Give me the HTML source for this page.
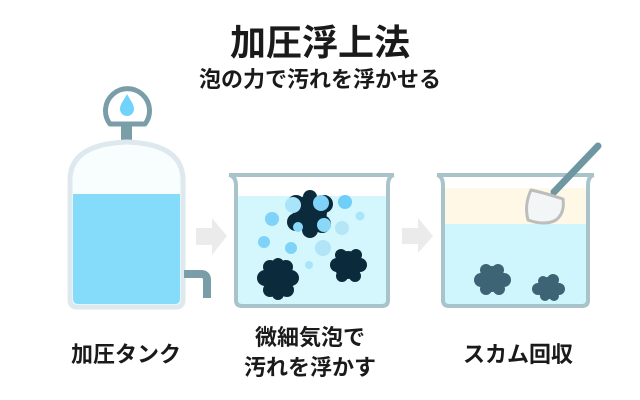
<!DOCTYPE html>
<html><head><meta charset="utf-8"><style>
html,body{margin:0;padding:0;background:#fff}
svg{display:block}
text{font-family:"Liberation Sans","Noto Sans CJK JP",sans-serif;fill:#1a1a1a}
</style></head><body>
<svg width="640" height="400" viewBox="0 0 640 400" xmlns="http://www.w3.org/2000/svg">
<text x="320" y="55" text-anchor="middle" font-size="36" font-weight="700">加圧浮上法</text>
<text x="320" y="87" text-anchor="middle" font-size="22" font-weight="700">泡の力で汚れを浮かせる</text>

<!-- gauge -->
<path d="M110 124 A22 22 0 1 1 145 124 Z" fill="#fff" stroke="#7a9ea8" stroke-width="5" stroke-linejoin="round"/>
<rect x="121" y="126" width="11" height="16" fill="#7a9ea8"/>
<path d="M127 94 C124 100 120 104 120 109 A7 7 0 0 0 134 109 C134 104 130 100 127 94 Z" fill="#6fd3fb"/>
<!-- tank -->
<path d="M70 300 V180 Q70 144 127 142 Q183 144 183 180 V300 Q183 307 176 307 H77 Q70 307 70 300 Z" fill="#f8fdfe" stroke="#dde9ee" stroke-width="5"/>
<path d="M73 194 H180 V299 Q180 304 175 304 H78 Q73 304 73 299 Z" fill="#84dcfa"/>
<path d="M184 274 H201 Q207 274 207 280 V298" fill="none" stroke="#7a9ea8" stroke-width="8"/>

<!-- arrows -->
<polygon points="196,228 212,228 212,218 227,236 212,255 212,245 196,245" fill="#ebebeb"/>
<polygon points="402,228 418,228 418,218 433,236 418,253 418,244 402,244" fill="#ebebeb"/>

<!-- beaker 2 -->
<path d="M234 196 H390 V300 Q390 306 384 306 H240 Q234 306 234 300 Z" fill="#d4f6fd"/>
<path d="M229 175 Q236 176 236 186 V300 Q236 306 242 306 H382 Q388 306 388 300 V186 Q388 176 394 175" fill="none" stroke="#a9c3cb" stroke-width="4"/>
<line x1="229" y1="175" x2="394" y2="175" stroke="#a9c3cb" stroke-width="4"/>
<g fill="#0b2a3c">
<circle cx="310" cy="212" r="17"/><circle cx="296" cy="204" r="9"/><circle cx="324" cy="204" r="9"/><circle cx="296" cy="222" r="9"/><circle cx="322" cy="224" r="9"/><circle cx="310" cy="197" r="7"/><circle cx="310" cy="230" r="8"/>
<circle cx="278" cy="278" r="15"/><circle cx="265" cy="278" r="8"/><circle cx="291" cy="278" r="8"/><circle cx="270" cy="267" r="7"/><circle cx="286" cy="267" r="7"/><circle cx="270" cy="290" r="7"/><circle cx="287" cy="290" r="7"/><circle cx="278" cy="264" r="6"/><circle cx="278" cy="294" r="6"/>
<circle cx="348" cy="265" r="14"/><circle cx="337" cy="265" r="7"/><circle cx="360" cy="265" r="7"/><circle cx="341" cy="255" r="6"/><circle cx="356" cy="255" r="6"/><circle cx="342" cy="276" r="6"/><circle cx="355" cy="276" r="6"/>
</g>
<circle cx="293" cy="205" r="8" fill="#a8e4fa"/>
<circle cx="321" cy="203" r="8" fill="#7fd2f8"/>
<circle cx="345" cy="202" r="7" fill="#6fcff8"/>
<circle cx="272" cy="219" r="7" fill="#7fd2f8"/>
<circle cx="298" cy="227" r="5" fill="#8ad8f8"/>
<circle cx="324" cy="225" r="7" fill="#8ad8f8"/>
<circle cx="342" cy="228" r="7" fill="#b4e6f6"/>
<circle cx="360" cy="216" r="4.5" fill="#a8e4fa"/>
<circle cx="264" cy="242" r="6" fill="#7fd2f8"/>
<circle cx="291" cy="248" r="6" fill="#7fd2f8"/>
<circle cx="323" cy="248" r="8" fill="#b0e4f6"/>
<circle cx="309" cy="265" r="4" fill="#a8e4fa"/>

<!-- beaker 3 -->
<path d="M441 188 H590 V224 H441 Z" fill="#fff8e6"/>
<path d="M441 224 H590 V300 Q590 306 584 306 H447 Q441 306 441 300 Z" fill="#d0f6fd"/>
<path d="M437 175 Q443 176 443 186 V300 Q443 306 449 306 H582 Q588 306 588 300 V186 Q588 176 594 175" fill="none" stroke="#a9c3cb" stroke-width="4"/>
<line x1="437" y1="175" x2="594" y2="175" stroke="#a9c3cb" stroke-width="4"/>
<g fill="#3c6474">
<circle cx="492" cy="279" r="13"/><circle cx="481" cy="280" r="7"/><circle cx="504" cy="280" r="7"/><circle cx="486" cy="270" r="6"/><circle cx="498" cy="270" r="6"/><circle cx="486" cy="289" r="6"/><circle cx="499" cy="289" r="6"/>
<circle cx="548" cy="288" r="11"/><circle cx="538" cy="289" r="6"/><circle cx="559" cy="289" r="6"/><circle cx="543" cy="281" r="5"/><circle cx="553" cy="280" r="6"/><circle cx="545" cy="296" r="5"/><circle cx="554" cy="296" r="5"/>
</g>
<line x1="598" y1="146" x2="554" y2="192" stroke="#6e97a2" stroke-width="7" stroke-linecap="round"/>
<path d="M531 190 Q545 193 563 199 Q565 213 556 220 Q545 226 528 220 Q524 205 531 190 Z" fill="#f3f6f7" stroke="#bdbdbd" stroke-width="3" stroke-linejoin="round"/>

<text x="126" y="362" text-anchor="middle" font-size="22" font-weight="700">加圧タンク</text>
<text x="310" y="345" text-anchor="middle" font-size="22" font-weight="700">微細気泡で</text>
<text x="310" y="375" text-anchor="middle" font-size="22" font-weight="700">汚れを浮かす</text>
<text x="518" y="362" text-anchor="middle" font-size="22" font-weight="700">スカム回収</text>
</svg>
</body></html>
